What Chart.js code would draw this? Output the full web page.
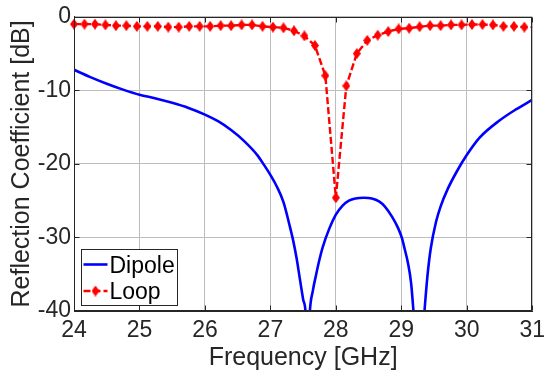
<!DOCTYPE html>
<html>
<head>
<meta charset="utf-8">
<title>Reflection Coefficient</title>
<script src="https://cdn.jsdelivr.net/npm/chart.js@4.4.1/dist/chart.umd.min.js"></script>
<style>
  html, body { margin: 0; padding: 0; background: #fff; }
  #wrap { width: 551px; height: 378px; position: relative; }
</style>
</head>
<body>
<div id="wrap"><canvas id="reflChart"></canvas></div>
<script>
// Dipole: smooth curve (GHz, dB)
const dipoleFreq = [24.0, 24.25, 24.5, 24.75, 25.0, 25.25, 25.5, 25.75, 26.0, 26.2, 26.4, 26.6, 26.8, 26.9,
  27.0, 27.1, 27.2, 27.3, 27.35, 27.4, 27.45, 27.5, 27.54, 27.57, 27.6, 27.65, 27.7, 27.75, 27.8, 27.9,
  28.0, 28.1, 28.2, 28.3, 28.43, 28.55, 28.66, 28.75, 28.86, 28.95, 29.01, 29.05, 29.1, 29.15, 29.19,
  29.27, 29.35, 29.4, 29.45, 29.53, 29.6, 29.71, 29.85, 30.0, 30.2, 30.5, 30.75, 31.0];
const dipoleDb = [-7.2, -8.2, -9.1, -9.9, -10.6, -11.1, -11.7, -12.4, -13.3, -14.2, -15.4, -16.9, -18.8, -20.1,
  -21.5, -23.1, -25.2, -28.6, -30.5, -32.8, -35.6, -38.4, -40.5, -48.0, -40.5, -37.2, -35.0, -33.0, -31.3, -28.8,
  -26.9, -25.7, -25.0, -24.7, -24.6, -24.7, -25.1, -25.8, -27.2, -28.7, -30.1, -31.5, -33.4, -36.2, -40.5,
  -50.0, -40.5, -35.2, -31.5, -27.9, -25.8, -23.4, -21.0, -18.8, -16.4, -14.1, -12.6, -11.3];

// Loop: sampled with markers
const loopFreq = [24.00, 24.16, 24.32, 24.48, 24.64, 24.80, 24.96, 25.12, 25.28, 25.44,
  25.60, 25.76, 25.92, 26.08, 26.24, 26.40, 26.56, 26.72, 26.88, 27.04,
  27.20, 27.36, 27.52, 27.68, 27.84, 28.00, 28.16, 28.32, 28.48, 28.64,
  28.80, 28.96, 29.12, 29.28, 29.44, 29.60, 29.76, 29.92, 30.08, 30.24,
  30.40, 30.56, 30.72, 30.88, 31.00];
const loopDb = [-1.0, -1.0, -1.0, -1.1, -1.2, -1.2, -1.3, -1.3, -1.3, -1.4,
  -1.4, -1.3, -1.3, -1.3, -1.2, -1.2, -1.1, -1.1, -1.3, -1.4,
  -1.5, -1.9, -2.6, -3.9, -8.0, -24.6, -9.4, -5.0, -3.2, -2.5,
  -2.0, -1.65, -1.55, -1.35, -1.2, -1.2, -1.1, -1.1, -1.05, -1.05,
  -1.1, -1.3, -1.3, -1.4, -1.4];

const xTicks = [24, 25, 26, 27, 28, 29, 30, 31];
const yTicks = [-40, -30, -20, -10, 0];

const FONT = '"Liberation Sans", Arial, Helvetica, sans-serif';
const INK = '#262626';

function toPoints(xs, ys) {
  return xs.map((x, i) => ({ x: x, y: ys[i] }));
}

// elongated filled diamond, like the matlab 'd' marker
function makeDiamond(w, h, color) {
  const c = document.createElement('canvas');
  c.width = w;
  c.height = h;
  const g = c.getContext('2d');
  g.fillStyle = color;
  g.beginPath();
  g.moveTo(w / 2, 0);
  g.lineTo(w, h / 2);
  g.lineTo(w / 2, h);
  g.lineTo(0, h / 2);
  g.closePath();
  g.fill();
  return c;
}
const diamond = makeDiamond(8, 11, '#ff0000');

// box around the axes, inward ticks, and the legend in the lower left corner
const axesBoxPlugin = {
  id: 'axesBox',
  afterDatasetsDraw(chart) {
    const ctx = chart.ctx;
    const a = chart.chartArea;
    const xs = chart.scales.x, ys = chart.scales.y;
    const L = Math.round(a.left) + 0.5, R = Math.round(a.right) - 0.5;
    const T = Math.round(a.top) + 0.5, B = Math.round(a.bottom) - 0.5;
    ctx.save();
    ctx.strokeStyle = INK;
    ctx.lineWidth = 1;
    ctx.strokeRect(L, T, R - L, B - T);

    // tick marks pointing inwards
    ctx.beginPath();
    xTicks.forEach(v => {
      const px = Math.round(xs.getPixelForValue(v)) + 0.5;
      ctx.moveTo(px, B); ctx.lineTo(px, B - 5);
      ctx.moveTo(px, T); ctx.lineTo(px, T + 5);
    });
    yTicks.forEach(v => {
      const py = Math.round(ys.getPixelForValue(v)) + 0.5;
      ctx.moveTo(L, py); ctx.lineTo(L + 5, py);
      ctx.moveTo(R, py); ctx.lineTo(R - 5, py);
    });
    ctx.stroke();

    // legend
    const bx = L + 7, by = B - 61, bw = 96, bh = 56;
    ctx.fillStyle = '#ffffff';
    ctx.fillRect(bx, by, bw, bh);
    ctx.strokeStyle = INK;
    ctx.strokeRect(bx, by, bw, bh);

    const rows = [
      { lineY: by + 15, baseY: by + 23 },
      { lineY: by + 41.5, baseY: by + 49.5 }
    ];
    chart.data.datasets.forEach((ds, i) => {
      const r = rows[i];
      ctx.beginPath();
      ctx.strokeStyle = ds.borderColor;
      ctx.lineWidth = ds.borderWidth;
      ctx.setLineDash(ds.borderDash || []);
      ctx.moveTo(bx + 2, r.lineY);
      ctx.lineTo(bx + 26, r.lineY);
      ctx.stroke();
      ctx.setLineDash([]);
      if (ds.showMarker) {
        ctx.drawImage(diamond, bx + 14 - diamond.width / 2, r.lineY - diamond.height / 2);
      }
      ctx.fillStyle = '#000000';
      ctx.font = '23px ' + FONT;
      ctx.textAlign = 'left';
      ctx.textBaseline = 'alphabetic';
      ctx.fillText(ds.label, bx + 28, r.baseY);
    });
    ctx.restore();
  }
};

const ctx = document.getElementById('reflChart').getContext('2d');

const reflChart = new Chart(ctx, {
  type: 'line',
  data: {
    datasets: [
      {
        label: 'Dipole',
        data: toPoints(dipoleFreq, dipoleDb),
        borderColor: '#0000ff',
        borderWidth: 2.6,
        pointRadius: 0,
        cubicInterpolationMode: 'monotone',
        clip: 0
      },
      {
        label: 'Loop',
        data: toPoints(loopFreq, loopDb),
        borderColor: '#ff0000',
        backgroundColor: '#ff0000',
        borderWidth: 2.4,
        borderDash: [7, 3],
        pointStyle: diamond,
        pointRadius: (c) => (c.raw && c.raw.x > 30.95 ? 0 : 4),
        tension: 0,
        showMarker: true,
        clip: 10
      }
    ]
  },
  options: {
    responsive: true,
    maintainAspectRatio: false,
    animation: false,
    layout: { padding: { left: 0, top: 11, right: 12, bottom: 0 } },
    plugins: {
      legend: { display: false },
      tooltip: { enabled: false }
    },
    scales: {
      x: {
        type: 'linear',
        min: 24,
        max: 31,
        afterBuildTicks: (s) => { s.ticks = xTicks.map(v => ({ value: v })); },
        afterFit: (s) => { s.height = 67; },
        ticks: {
          color: INK,
          font: { family: FONT, size: 23 },
          padding: 6,
          maxRotation: 0,
          autoSkip: false
        },
        grid: { color: '#bdbdbd', drawTicks: false },
        border: { display: true, color: INK },
        title: {
          display: true,
          text: 'Frequency [GHz]',
          color: INK,
          font: { family: FONT, size: 25 },
          padding: { top: 0, bottom: 5 }
        }
      },
      y: {
        min: -40,
        max: 0,
        afterBuildTicks: (s) => { s.ticks = yTicks.map(v => ({ value: v })); },
        afterFit: (s) => { s.width = 74; },
        ticks: {
          color: INK,
          font: { family: FONT, size: 23 },
          padding: 3
        },
        grid: { color: '#bdbdbd', drawTicks: false },
        border: { display: true, color: INK },
        title: {
          display: true,
          text: 'Reflection Coefficient [dB]',
          color: INK,
          font: { family: FONT, size: 25 },
          padding: { top: 7, bottom: 0 }
        }
      }
    }
  },
  plugins: [axesBoxPlugin]
});
</script>
</body>
</html>
